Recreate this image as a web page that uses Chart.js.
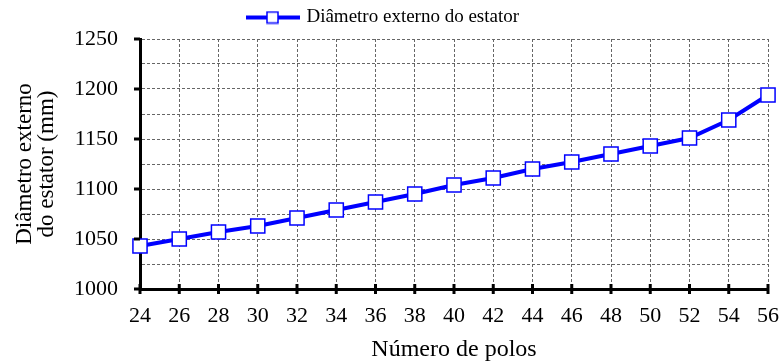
<!DOCTYPE html>
<html>
<head>
<meta charset="utf-8">
<script src="https://cdn.jsdelivr.net/npm/chart.js@4/dist/chart.umd.min.js"></script>
<style>
  html, body { margin: 0; padding: 0; background: #fff; }
  #wrap { width: 782px; height: 363px; }
</style>
</head>
<body>
<div id="wrap"><canvas id="c" width="782" height="363"></canvas></div>
<script>
// number of poles vs. stator outer diameter (mm)
const polos = [24, 26, 28, 30, 32, 34, 36, 38, 40, 42, 44, 46, 48, 50, 52, 54, 56];
const diametro = [1043, 1050, 1057, 1063, 1071, 1079, 1087, 1095, 1104, 1111, 1120, 1127, 1135, 1143, 1151, 1169, 1194];
const yLabels = [1000, 1050, 1100, 1150, 1200, 1250];
const serieNome = 'Diâmetro externo do estator';

const FONT = "'Liberation Serif', 'Times New Roman', serif";
const BLUE = '#0000ff';

// legend symbol: line with a hollow square
function legendIcon() {
  const cv = document.createElement('canvas');
  cv.width = 54; cv.height = 14;
  const g = cv.getContext('2d');
  g.strokeStyle = BLUE; g.lineWidth = 4;
  g.beginPath(); g.moveTo(0, 7); g.lineTo(54, 7); g.stroke();
  g.fillStyle = '#fff'; g.lineWidth = 1.5;
  g.fillRect(21, 1.5, 11, 11);
  g.strokeRect(21, 1.5, 11, 11);
  return cv;
}

// keep the legend band a fixed height so the plot starts where it should
const legendBand = {
  id: 'legendBand',
  afterInit(chart) {
    const lg = chart.legend;
    if (!lg) return;
    const fit = lg.fit.bind(lg);
    lg.fit = function () { fit(); this.height = 39; };
  }
};

// black tick marks on the axes
const tickMarks = {
  id: 'tickMarks',
  afterDraw(chart) {
    const { ctx, chartArea: a, scales } = chart;
    ctx.save();
    ctx.strokeStyle = '#000';
    ctx.lineWidth = 3;
    yLabels.forEach(v => {
      const y = scales.y.getPixelForValue(v);
      ctx.beginPath(); ctx.moveTo(a.left - 6, y); ctx.lineTo(a.left, y); ctx.stroke();
    });
    polos.forEach(v => {
      const x = scales.x.getPixelForValue(v);
      ctx.beginPath(); ctx.moveTo(x, a.bottom - 5); ctx.lineTo(x, a.bottom + 5); ctx.stroke();
    });
    ctx.restore();
  }
};

const grid = { color: '#666', lineWidth: 1, drawTicks: false };
const border = { color: '#000', width: 3, dash: [3, 2] };

new Chart(document.getElementById('c'), {
  type: 'line',
  data: {
    datasets: [{
      label: serieNome,
      data: polos.map((p, i) => ({ x: p, y: diametro[i] })),
      borderColor: BLUE,
      borderWidth: 4,
      pointStyle: 'rect',
      pointRadius: 10,
      pointBackgroundColor: '#fff',
      pointBorderColor: BLUE,
      pointBorderWidth: 1.5,
      clip: false,
      tension: 0
    }]
  },
  options: {
    responsive: false,
    animation: false,
    layout: { padding: { top: 0, right: 14, left: 0, bottom: 0 } },
    plugins: {
      legend: {
        labels: {
          font: { family: FONT, size: 19 },
          color: '#000',
          usePointStyle: true,
          pointStyleWidth: 48,
          padding: 8,
          generateLabels: () => [{
            text: serieNome,
            pointStyle: legendIcon(),
            fillStyle: '#fff',
            strokeStyle: BLUE,
            lineWidth: 0,
            datasetIndex: 0
          }]
        }
      },
      tooltip: { enabled: false }
    },
    scales: {
      x: {
        type: 'linear',
        min: 24, max: 56,
        grid: grid,
        border: border,
        ticks: {
          stepSize: 2,
          autoSkip: false,
          padding: 14,
          color: '#000',
          font: { family: FONT, size: 22 }
        },
        title: {
          display: true,
          text: 'Número de polos',
          color: '#000',
          font: { family: FONT, size: 24, lineHeight: 1.0 },
          padding: { top: 0, bottom: 1 }
        },
        afterFit(s) {
          s.height = 74;
          s.paddingLeft = 0;
          s.paddingRight = 0;
        }
      },
      y: {
        min: 1000, max: 1250,
        grid: grid,
        border: border,
        ticks: {
          stepSize: 25,
          autoSkip: false,
          padding: 22,
          color: '#000',
          font: { family: FONT, size: 22 },
          callback: v => (yLabels.includes(v) ? v : '')
        },
        title: {
          display: true,
          text: ['Diâmetro externo', 'do estator (mm)'],
          color: '#000',
          font: { family: FONT, size: 23, lineHeight: 0.95 },
          padding: { top: 14, bottom: 0 }
        },
        afterFit(s) { s.width = 140; }
      }
    }
  },
  plugins: [legendBand, tickMarks]
});
</script>
</body>
</html>
